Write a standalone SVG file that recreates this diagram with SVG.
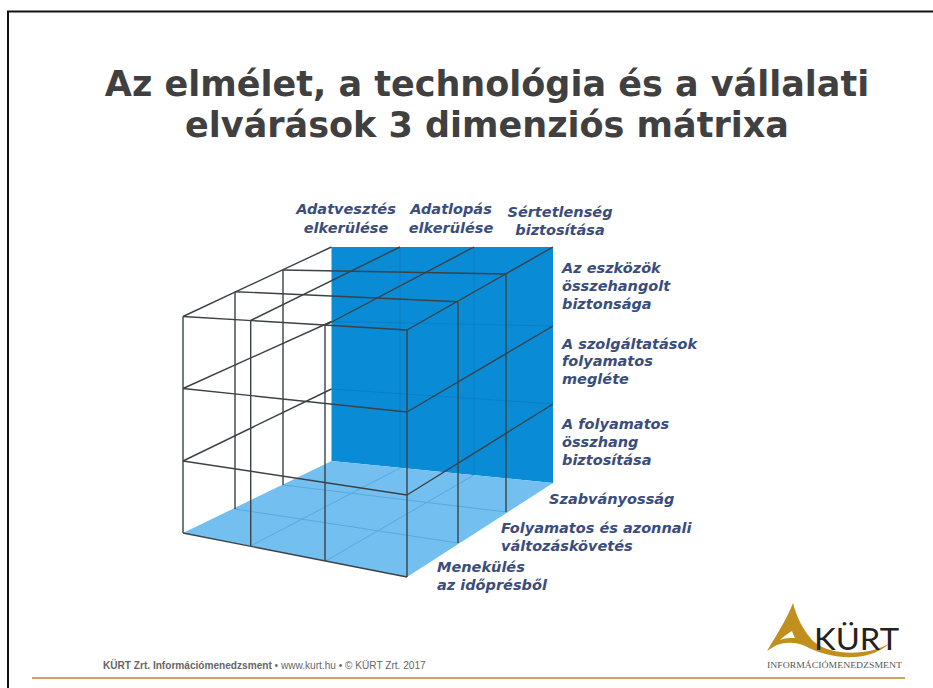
<svg xmlns="http://www.w3.org/2000/svg" width="933" height="688" viewBox="0 0 933 688">
<style>
.title{font:bold 35px "DejaVu Sans",sans-serif;fill:#404040;text-anchor:middle}
.lab{font:italic bold 14.5px "DejaVu Sans",sans-serif;fill:#3a4d7c}
.mid{text-anchor:middle}
.g{stroke:#3a4246;stroke-width:1.4;fill:none}
.f{stroke:#0a6ea8;stroke-width:1;fill:none;opacity:.4}
.fl{stroke:#5aa9dd;stroke-width:1;fill:none}
.foot{font:10.1px "Liberation Sans",sans-serif;fill:#666}
</style>
<rect width="933" height="688" fill="#fff"/>
<path d="M8 688V11.500H933" fill="none" stroke="#111" stroke-width="2"/>
<g id="title">
<text class="title" x="487" y="95.500">Az elmélet, a technológia és a vállalati</text>
<text class="title" x="487" y="137">elvárások 3 dimenziós mátrixa</text>
</g>
<g id="back-wall">
<polygon points="331.500,247 553,247 553,483 331.500,461" fill="#0a8bd6"/>
<path class="f" d="M400 247V468M474 247V475M331.500 321.500L553 326M331.500 389L553 404"/>
</g>
<g id="floor">
<polygon points="331.500,461 553,483 407,577 183,533" fill="#73bff0"/>
<path class="fl" d="M235 509L458 543M283 485L506 512M251 545.700L400 468M325.700 561L474 475"/>
</g>
<g id="connectors">
<path class="g" d="M183 316.500L407 330M235 291.700L458 301.700M283 270L506 274"/>
<path class="g" d="M183 388.500L407 412M183 461L407 495M183 533L407 577"/>
<path class="g" d="M183 316.500L331.500 247M250.700 320.500L400 247M325 325.500L474 247M407 330L553 247"/>
<path class="g" d="M183 388.500L331.500 321.500M407 412L553 326M183 461L331.500 389M407 495L553 404"/>
<path class="g" d="M183 316.500V533M250.700 320.500V545.700M325 325.500V561M407 330V577"/>
<path class="g" d="M235 291.700V509M458 301.700V543M283 270V485M506 274V512"/>
</g>
<g id="column-labels">
<text class="lab mid" x="346" y="214">Adatvesztés</text>
<text class="lab mid" x="346" y="232.500">elkerülése</text>
<text class="lab mid" x="451" y="214">Adatlopás</text>
<text class="lab mid" x="451" y="232.500">elkerülése</text>
<text class="lab mid" x="560" y="217">Sértetlenség</text>
<text class="lab mid" x="560" y="235">biztosítása</text>
</g>
<g id="row-labels">
<text class="lab" x="562" y="273">Az eszközök</text>
<text class="lab" x="562" y="291">összehangolt</text>
<text class="lab" x="562" y="308.500">biztonsága</text>
<text class="lab" x="562" y="348.500">A szolgáltatások</text>
<text class="lab" x="562" y="366">folyamatos</text>
<text class="lab" x="562" y="384">megléte</text>
<text class="lab" x="562" y="429">A folyamatos</text>
<text class="lab" x="562" y="447">összhang</text>
<text class="lab" x="562" y="465">biztosítása</text>
</g>
<g id="floor-labels">
<text class="lab" x="549" y="504">Szabványosság</text>
<text class="lab" x="501" y="533">Folyamatos  és azonnali</text>
<text class="lab" x="501" y="551">változáskövetés</text>
<text class="lab" x="437" y="572">Menekülés</text>
<text class="lab" x="437" y="590">az időprésből</text>
</g>
<g id="footer">
<text class="foot" x="103" y="668.500"><tspan font-weight="bold">KÜRT Zrt. Információmenedzsment</tspan> • www.kurt.hu • © KÜRT Zrt. 2017</text>
<line x1="32" y1="678" x2="905" y2="678" stroke="#c9a45c" stroke-width="2"/>
</g>
<g id="logo">
<path d="M793 603C797 618 803 630 813 641C826 652 845 654 862 652C872 651 881 648 889 644C880 652 868 656 855 657C838 658 820 654 805 646C796 642 786 642 777 645C773 647 770 649 767 651C775 637 786 621 793 603ZM792 631C787 634 783 637 780 640C785 638 790 638 795 638C794 636 793 634 792 631Z" fill="#c08f1e" fill-rule="evenodd"/>
<text x="814" y="650" font-family="Lato,'Liberation Sans',sans-serif" font-size="31" fill="#222" textLength="85" lengthAdjust="spacingAndGlyphs">KÜRT</text>
<text x="767" y="667.500" font-family="'Liberation Serif',serif" font-size="8" fill="#555" textLength="135" lengthAdjust="spacingAndGlyphs">INFORMÁCIÓMENEDZSMENT</text>
</g>
</svg>
